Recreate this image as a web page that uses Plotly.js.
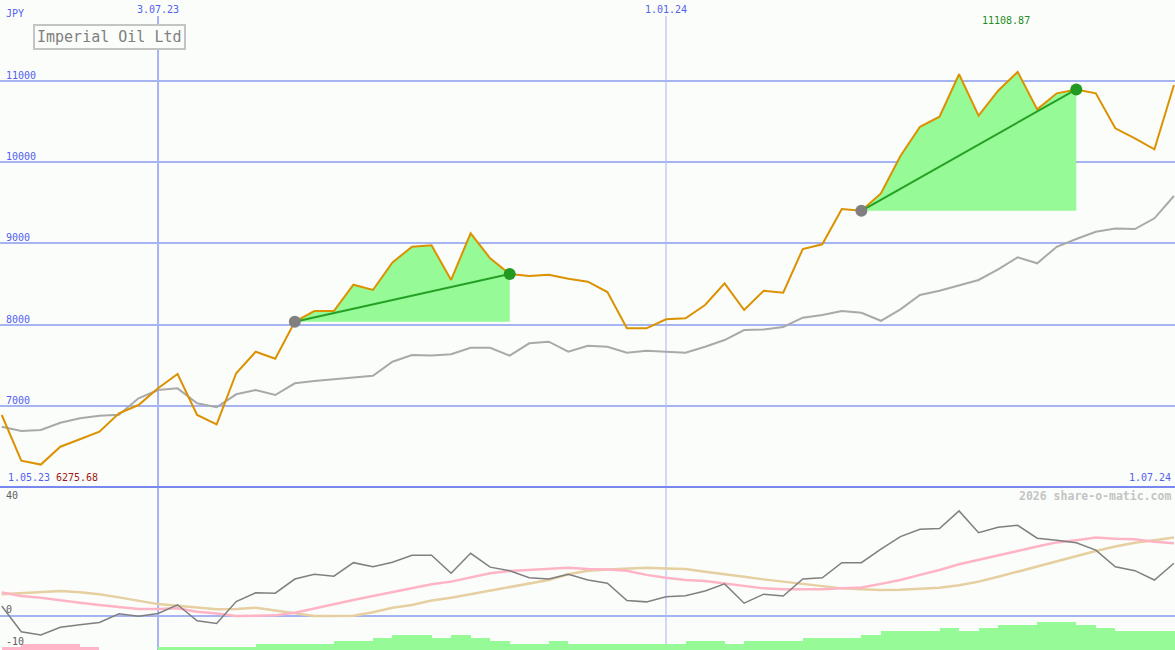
<!DOCTYPE html>
<html><head><meta charset="utf-8">
<script src="https://cdn.plot.ly/plotly-3.0.1.min.js"></script>
<style>html,body{margin:0;padding:0;background:#fbfdfb}#chart{width:1175px;height:650px}</style>
</head><body><div id="chart"></div><script>
const dates = ['2023-05-08','2023-05-15','2023-05-22','2023-05-29','2023-06-05','2023-06-12','2023-06-19','2023-06-26',
'2023-07-03','2023-07-10','2023-07-17','2023-07-24','2023-07-31','2023-08-07','2023-08-14','2023-08-21','2023-08-28',
'2023-09-04','2023-09-11','2023-09-18','2023-09-25','2023-10-02','2023-10-09','2023-10-16','2023-10-23','2023-10-30',
'2023-11-06','2023-11-13','2023-11-20','2023-11-27','2023-12-04','2023-12-11','2023-12-18','2023-12-25','2024-01-01',
'2024-01-08','2024-01-15','2024-01-22','2024-01-29','2024-02-05','2024-02-12','2024-02-19','2024-02-26','2024-03-04',
'2024-03-11','2024-03-18','2024-03-25','2024-04-01','2024-04-08','2024-04-15','2024-04-22','2024-04-29','2024-05-06',
'2024-05-13','2024-05-20','2024-05-27','2024-06-03','2024-06-10','2024-06-17','2024-06-24','2024-07-01'];
const price = [6886,6324,6275.68,6496,6587,6680,6907,7009,7215,7391,6886,6772,7400,7665,7579,8035,8166,8166,8490,8425,
8765,8957,8975,8548,9123,8815,8622,8597,8613,8564,8527,8400,7953,7953,8064,8076,8240,8507,8178,8416,8391,8929,8987,
9422,9400,9613,10074,10434,10557,11080,10570,10877,11108.87,10648,10845,10893,10845,10415,10292,10156,10948];
const avg = [6742,6689,6702,6791,6845,6878,6890,7092,7194,7214,7030,6981,7141,7194,7132,7276,7305,7326,7342,7370,7542,
7625,7617,7633,7714,7714,7617,7768,7788,7665,7739,7727,7653,7678,7665,7653,7727,7809,7932,7940,7970,8084,8117,8166,
8145,8046,8187,8363,8416,8486,8548,8679,8827,8753,8957,9052,9142,9183,9175,9307,9582];
const osc = [3.0,-5.0,-6.0,-3.6,-2.8,-2.1,0.6,-0.2,0.7,3.4,-1.6,-2.4,4.4,7.1,7.0,11.4,12.9,12.3,16.5,15.2,16.6,18.8,18.8,
13.2,19.4,15.1,14.0,11.8,11.4,12.9,11.1,10.1,4.7,4.3,5.9,6.2,7.7,9.9,3.9,6.7,6.1,11.4,11.8,16.5,16.5,20.7,24.6,26.9,27.1,
32.6,25.8,27.5,28.1,24.1,23.5,22.7,20.4,15.2,14.0,11.1,16.3];
const oscPink = [7.2,6.1,5.6,4.7,4.0,3.3,2.6,2.1,2.1,2.3,1.2,0.7,-0.1,-0.1,0.1,0.9,2.3,3.6,4.9,6.1,7.3,8.5,9.8,10.6,11.9,
13.2,13.9,14.2,14.5,14.9,14.5,14.4,14.0,12.7,11.8,11.1,10.8,10.1,9.2,8.5,8.2,8.2,8.2,8.5,8.8,9.9,11.1,12.7,14.2,16.0,17.3,
18.6,20.1,21.5,22.8,23.5,24.3,23.9,23.8,23.0,22.5];
const oscTan = [6.7,7.0,7.3,7.7,7.3,6.7,5.7,4.7,3.6,3.1,2.5,2.0,2.1,2.5,1.6,0.7,-0.1,-0.1,0.0,1.1,2.5,3.3,4.7,5.6,6.7,7.8,
8.8,9.9,11.1,12.9,14.0,14.4,14.7,14.9,14.7,14.5,13.7,13.0,12.1,11.3,10.6,9.8,9.0,8.5,8.2,8.0,8.1,8.5,8.7,9.5,10.6,12.1,
13.7,15.5,17.0,18.6,20.1,21.5,22.7,23.5,24.3];
const barsPink = [1.0,1.9,1.9,1.9,1.0,null,null,null,null,null,null,null,null,null,null,null,null,null,null,null,null,null,
null,null,null,null,null,null,null,null,null,null,null,null,null,null,null,null,null,null,null,null,null,null,null,null,null,
null,null,null,null,null,null,null,null,null,null,null,null,null,null];
const barsGreen = [null,null,null,null,null,null,null,null,1.0,1.0,1.0,1.0,1.0,1.9,1.9,1.9,1.9,2.8,2.8,3.8,4.7,4.7,3.8,4.7,
3.8,2.8,1.9,1.9,2.8,1.9,1.9,1.9,1.9,1.9,1.9,2.8,2.8,1.9,2.8,2.8,2.8,3.6,3.6,3.6,4.7,5.9,5.9,5.9,6.9,5.9,6.9,7.8,7.8,8.7,
8.7,7.8,6.9,5.9,5.9,5.9,5.9];
const yTicks = [7000,8000,9000,10000,11000];
const yTickLabels = ['7000','8000','9000','10000','11000'];
const lowTicks = [40,0,-10];
const lowTickLabels = ['40','0','-10'];
const xGridDates = ['2023-07-03','2024-01-01'];
const xGridLabels = ['3.07.23','1.01.24'];
const startLabel = '1.05.23', endLabel = '1.07.24';
const minLabel = '6275.68', maxLabel = '11108.87';
const chartTitle = 'Imperial Oil Ltd';
const currency = 'JPY';
const credit = '2026 share-o-matic.com';
const trendSegments = [[15,26],[44,55]];

const W = 1175, H = 650;
const lowTop = (H-487)/H;
const mono = 'DejaVu Sans Mono, monospace';
const blue = '#5262ee', grid = '#a6b4f2';
const traces = [];
trendSegments.forEach(([s,e]) => {
  traces.push({x:[dates[s],dates[e]], y:[price[s],price[s]], mode:'lines', line:{width:0}, hoverinfo:'skip', showlegend:false});
  traces.push({x:dates.slice(s,e+1), y:price.slice(s,e+1), mode:'lines', line:{width:0}, fill:'tonexty',
    fillcolor:'#96fa96', hoverinfo:'skip', showlegend:false});
});
traces.push({x:dates, y:avg, mode:'lines', line:{color:'#a9a9a9', width:2}, showlegend:false});
traces.push({x:dates, y:price, mode:'lines', line:{color:'#db9100', width:2}, showlegend:false});
trendSegments.forEach(([s,e]) => {
  traces.push({x:[dates[s],dates[e]], y:[price[s],price[e]], mode:'lines', line:{color:'#25a025', width:2}, showlegend:false});
  traces.push({x:[dates[s]], y:[price[s]], mode:'markers', marker:{color:'#808080', size:12}, showlegend:false});
  traces.push({x:[dates[e]], y:[price[e]], mode:'markers', marker:{color:'#229a22', size:12}, showlegend:false});
});
const wk = 7*86400000;
traces.push({type:'bar', x:dates, y:barsPink, yaxis:'y3', marker:{color:'#ffb6c8', line:{width:0}}, width:wk, offset:0, showlegend:false});
traces.push({type:'bar', x:dates, y:barsGreen, yaxis:'y3', marker:{color:'#96fa96', line:{width:0}}, width:wk, offset:0, showlegend:false});
traces.push({x:dates, y:oscTan, yaxis:'y2', mode:'lines', line:{color:'#e6cfa0', width:2.5}, showlegend:false});
traces.push({x:dates, y:oscPink, yaxis:'y2', mode:'lines', line:{color:'#ffb4c6', width:2.5}, showlegend:false});
traces.push({x:dates, y:osc, yaxis:'y2', mode:'lines', line:{color:'#7f7f7f', width:1.5}, showlegend:false});

const ann = [];
yTicks.forEach((v,i) => ann.push({xref:'paper', x:4/W, xanchor:'left', yref:'y', y:v, yanchor:'bottom', yshift:-2,
  text:yTickLabels[i], showarrow:false, font:{family:mono, size:10, color:blue}}));
lowTicks.forEach((v,i) => ann.push({xref:'paper', x:4/W, xanchor:'left', yref:'y2', y:v, yanchor:(v===40?'top':'bottom'),
  yshift:-1, text:lowTickLabels[i], showarrow:false, font:{family:mono, size:10, color:'#606060'}}));
xGridDates.forEach((d,i) => ann.push({xref:'x', x:d, xanchor:'center', yref:'paper', y:1, yanchor:'top', yshift:-2,
  text:xGridLabels[i], showarrow:false, font:{family:mono, size:10, color:blue}}));
ann.push({xref:'paper', x:4/W, xanchor:'left', yref:'paper', y:(H-13)/H, yanchor:'middle', text:currency, showarrow:false,
  font:{family:mono, size:10, color:blue}});
ann.push({xref:'paper', x:6/W, xanchor:'left', yref:'paper', y:(H-478)/H, yanchor:'middle', text:startLabel, showarrow:false,
  font:{family:mono, size:10, color:blue}});
ann.push({xref:'paper', x:54/W, xanchor:'left', yref:'paper', y:(H-478)/H, yanchor:'middle', text:minLabel, showarrow:false,
  font:{family:mono, size:10, color:'#a01818'}});
ann.push({xref:'paper', x:1173/W, xanchor:'right', yref:'paper', y:(H-478)/H, yanchor:'middle', text:endLabel, showarrow:false,
  font:{family:mono, size:10, color:blue}});
ann.push({xref:'x', x:dates[52], xanchor:'center', xshift:-12, yref:'paper', y:(H-21)/H, yanchor:'middle', text:maxLabel,
  showarrow:false, font:{family:mono, size:10, color:'#1e8c1e'}});
ann.push({xref:'paper', x:1173/W, xanchor:'right', yref:'paper', y:(H-496)/H, yanchor:'middle', text:'<b>'+credit+'</b>',
  showarrow:false, font:{family:mono, size:11.5, color:'#c4c4c4'}});
ann.push({xref:'paper', x:33/W, xanchor:'left', yref:'paper', y:(H-24)/H, yanchor:'top', text:chartTitle, showarrow:false,
  bordercolor:'#c4c4c4', borderwidth:2, borderpad:2, bgcolor:'#fbfdfb', font:{family:mono, size:15, color:'#808080'}});

const shapes = [];
xGridDates.forEach((d,i) => shapes.push({type:'line', xref:'x', x0:d, x1:d, yref:'paper', y0:0, y1:(H-16)/H,
  line:{color:grid, width:(i===0?2:1)}, layer:'below'}));
shapes.push({type:'line', xref:'paper', x0:0, x1:1, yref:'paper', y0:lowTop, y1:lowTop, line:{color:'#7888ee', width:2}});

const layout = {
  width:W, height:H, margin:{l:0,r:0,t:0,b:0}, paper_bgcolor:'#fbfdfb', plot_bgcolor:'#fbfdfb', showlegend:false,
  xaxis:{type:'date', range:['2023-05-07 09:00','2024-07-01 09:00'], showgrid:false, showticklabels:false, zeroline:false,
    showline:false, ticks:'', fixedrange:true},
  yaxis:{domain:[lowTop,1], range:[6000,11994], tickvals:yTicks, showgrid:true, gridcolor:grid, gridwidth:2,
    showticklabels:false, zeroline:false, showline:false, ticks:''},
  yaxis2:{domain:[0,lowTop], range:[-10.67,40.03], tickvals:[0], showgrid:true, gridcolor:grid, gridwidth:2,
    showticklabels:false, zeroline:false, showline:false, ticks:''},
  yaxis3:{overlaying:'y2', range:[0,50.7], visible:false},
  bargap:0, barmode:'overlay',
  annotations:ann, shapes:shapes
};
Plotly.newPlot('chart', traces, layout, {staticPlot:true, displayModeBar:false});
</script></body></html>
